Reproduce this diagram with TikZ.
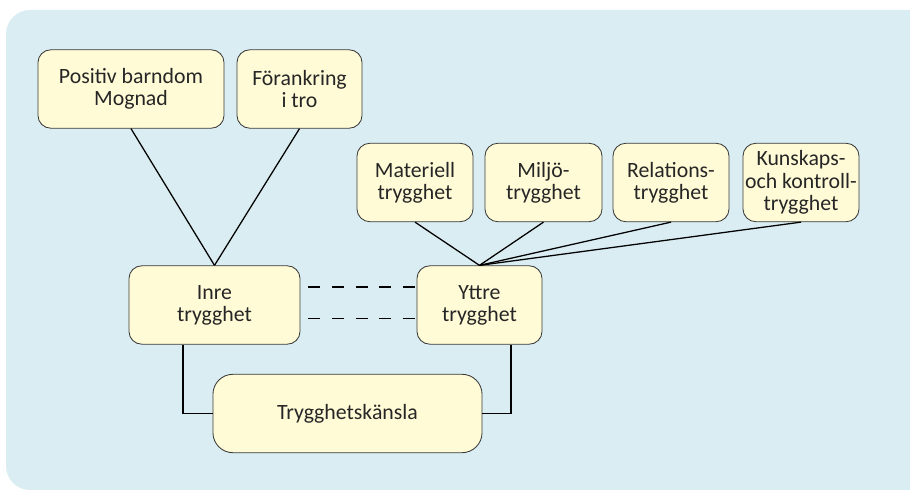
\documentclass[tikz,border=0pt]{standalone}
\usepackage{fontspec}
\setmainfont{Carlito}
\usepackage{tikz}

\definecolor{panelblue}{HTML}{DAEDF2}
\definecolor{boxyellow}{HTML}{FFFBD6}
\definecolor{boxline}{HTML}{3A3A3A}

\begin{document}
\begin{tikzpicture}[x=0.025cm, y=-0.025cm, line width=0.9pt, % 1 enhet = 1 px, y nedåt
  ruta/.style={draw=boxline, line width=0.6pt, fill=boxyellow, rounded corners=0.32cm,
    align=center, inner sep=0pt, minimum height=1.96cm, text=black!85,
    font=\fontsize{15.5}{15.8}\selectfont},
  streck/.style={dash pattern=on 8.4pt off 8.4pt}]
  \useasboundingbox (0,0) rectangle (910,490); % bildens ram
  \fill[panelblue] (910,10) [rounded corners=0.6cm] -- (6,10) -- (6,490) [sharp corners] -- (910,490) -- cycle; % bakgrund

  % övre rutor
  \node[ruta, minimum width=4.65cm] (barndom) at (131,89) {Positiv barndom\\Mognad};
  \node[ruta, minimum width=3.125cm] (tro) at (299.5,89) {Förankring\\i tro};
  \node[ruta, minimum width=2.9cm] (materiell) at (415,182.5) {Materiell\\trygghet};
  \node[ruta, minimum width=2.925cm] (miljo) at (543.5,182.5) {Miljö-\\trygghet};
  \node[ruta, minimum width=2.9cm] (relation) at (671,182.5) {Relations-\\trygghet};
  \node[ruta, minimum width=2.9cm] (kunskap) at (801,182.5) {Kunskaps-\\och kontroll-\\trygghet};

  % mitten och botten
  \node[ruta, minimum width=4.275cm] (inre) at (214.5,305) {Inre\\trygghet};
  \node[ruta, minimum width=3.125cm] (yttre) at (479.5,305) {Yttre\\trygghet};
  \node[ruta, minimum width=6.725cm, rounded corners=0.5cm] (kansla) at (347.5,413.5) {Trygghetskänsla};

  \draw (barndom.south) -- (inre.north);
  \draw (tro.south) -- (inre.north);
  \foreach \n in {materiell, miljo, relation, kunskap}
    \draw (\n.south) -- (yttre.north);

  \draw[streck] ([xshift=0.2cm, yshift=0.45cm]inre.east) -- ([yshift=0.45cm]yttre.west); % streckade linjer
  \draw[streck] ([xshift=0.2cm, yshift=-0.335cm]inre.east) -- ([yshift=-0.335cm]yttre.west);

  \draw ([xshift=-0.79cm]inre.south) |- (kansla.west);
  \draw ([xshift=0.79cm]yttre.south) |- (kansla.east);
\end{tikzpicture}
\end{document}
